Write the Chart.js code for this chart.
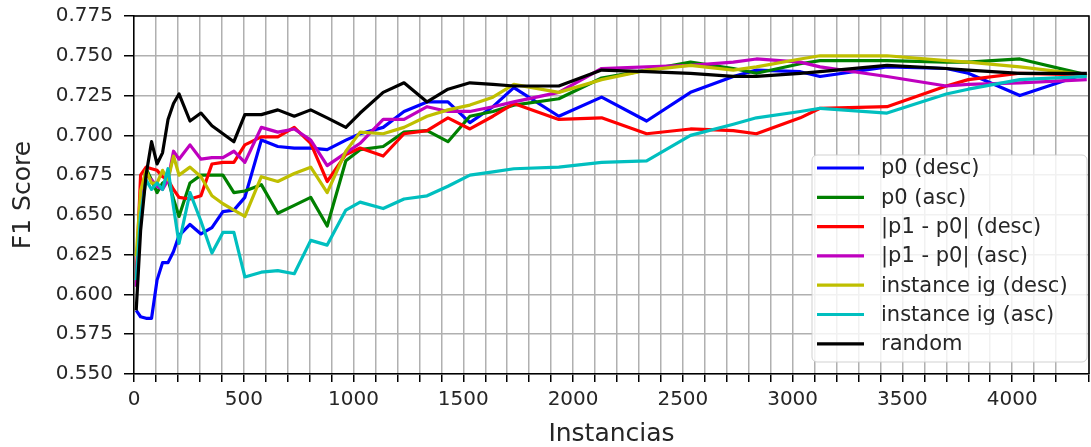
<!DOCTYPE html>
<html>
<head>
<meta charset="utf-8">
<script src="https://cdn.jsdelivr.net/npm/chart.js@4.4.1/dist/chart.umd.min.js"></script>
<style>
  html, body { margin: 0; padding: 0; background: #ffffff; }
  #wrap { width: 1091px; height: 447px; }
</style>
</head>
<body>
<div id="wrap"><canvas id="c" width="1091" height="447"></canvas></div>
<script>
// ---- data ----
const xs = [10, 30, 55, 80, 105, 130, 155, 180, 205, 255, 305, 355, 405, 455, 505, 580, 655, 730, 805, 880,
            965, 1030, 1135, 1230, 1335, 1430, 1530, 1635, 1730, 1935, 2130, 2335, 2535, 2730, 2835, 3035,
            3125, 3430, 3700, 3800, 4035, 4340];

const p0Desc = [0.590, 0.586, 0.585, 0.585, 0.609, 0.620, 0.620, 0.627, 0.637, 0.644, 0.638, 0.642, 0.652, 0.653, 0.661, 0.697, 0.693, 0.692, 0.692, 0.691,
                0.697, 0.701, 0.705, 0.715, 0.721, 0.721, 0.708, 0.718, 0.730, 0.712, 0.724, 0.709, 0.727, 0.737, 0.741, 0.740,
                0.737, 0.743, 0.742, 0.739, 0.725, 0.739];
const p0Asc = [0.605, 0.660, 0.679, 0.672, 0.664, 0.670, 0.672, 0.660, 0.649, 0.670, 0.675, 0.675, 0.675, 0.664, 0.665, 0.669, 0.651, 0.656, 0.661, 0.643,
               0.684, 0.691, 0.693, 0.702, 0.703, 0.696, 0.712, 0.715, 0.719, 0.723, 0.736, 0.741, 0.746, 0.742, 0.739, 0.745,
               0.747, 0.747, 0.746, 0.746, 0.748, 0.738];
const diffDesc = [0.610, 0.675, 0.680, 0.679, 0.678, 0.674, 0.672, 0.666, 0.661, 0.660, 0.662, 0.682, 0.683, 0.683, 0.694, 0.699, 0.699, 0.705, 0.695, 0.671,
                  0.688, 0.692, 0.687, 0.701, 0.703, 0.711, 0.704, 0.712, 0.720, 0.710, 0.711, 0.701, 0.704, 0.703, 0.701, 0.711,
                  0.717, 0.718, 0.731, 0.735, 0.739, 0.738];
const diffAsc = [0.605, 0.660, 0.675, 0.672, 0.668, 0.666, 0.672, 0.690, 0.685, 0.694, 0.685, 0.686, 0.686, 0.690, 0.683, 0.705, 0.702, 0.704, 0.697, 0.681,
                 0.689, 0.695, 0.710, 0.710, 0.718, 0.715, 0.715, 0.718, 0.721, 0.727, 0.742, 0.743, 0.744, 0.746, 0.748, 0.746,
                 0.743, 0.737, 0.731, 0.732, 0.733, 0.735];
const igDesc = [0.624, 0.665, 0.678, 0.670, 0.670, 0.678, 0.672, 0.687, 0.675, 0.680, 0.674, 0.662, 0.657, 0.653, 0.649, 0.674, 0.671, 0.676, 0.680, 0.664,
                0.690, 0.702, 0.701, 0.705, 0.712, 0.716, 0.719, 0.724, 0.732, 0.727, 0.735, 0.741, 0.744, 0.741, 0.743, 0.748,
                0.750, 0.750, 0.747, 0.746, 0.743, 0.738];
const igAsc = [0.609, 0.650, 0.672, 0.666, 0.670, 0.666, 0.679, 0.655, 0.632, 0.664, 0.646, 0.626, 0.639, 0.639, 0.611, 0.614, 0.615, 0.613, 0.634, 0.631,
               0.653, 0.658, 0.654, 0.660, 0.662, 0.668, 0.675, 0.677, 0.679, 0.680, 0.683, 0.684, 0.700, 0.707, 0.711, 0.715,
               0.717, 0.714, 0.726, 0.729, 0.735, 0.737];
const randomF1 = [0.590, 0.640, 0.675, 0.696, 0.682, 0.689, 0.710, 0.720, 0.726, 0.709, 0.714, 0.706, 0.701, 0.696, 0.713, 0.713, 0.716, 0.712, 0.716, 0.711,
                  0.705, 0.714, 0.727, 0.733, 0.721, 0.729, 0.733, 0.732, 0.731, 0.731, 0.741, 0.740, 0.739, 0.737, 0.737, 0.739,
                  0.740, 0.744, 0.742, 0.741, 0.739, 0.739];

const seriesNames = ['p0 (desc)', 'p0 (asc)', '|p1 - p0| (desc)', '|p1 - p0| (asc)', 'instance ig (desc)', 'instance ig (asc)', 'random'];
const seriesValues = [p0Desc, p0Asc, diffDesc, diffAsc, igDesc, igAsc, randomF1];
const seriesColors = ['#0000ff', '#008000', '#ff0000', '#bf00bf', '#bfbf00', '#00bfbf', '#000000'];

const yTicks = [0.550, 0.575, 0.600, 0.625, 0.650, 0.675, 0.700, 0.725, 0.750, 0.775];
const xLabelStep = 500;

// ---- chart ----
const FONT = "'DejaVu Sans', 'Liberation Sans', sans-serif";
const TEXT = '#262626';

const datasets = seriesValues.map((vals, i) => ({
  label: seriesNames[i],
  data: xs.map((x, k) => ({ x: x, y: vals[k] })),
  borderColor: seriesColors[i],
  backgroundColor: seriesColors[i],
  borderWidth: 3.2,
  pointRadius: 0,
  tension: 0,
  fill: false,
  borderJoinStyle: 'round',
  order: seriesValues.length - i
}));

const frame = {
  id: 'frame',
  afterDatasetsDraw(chart) {
    const { ctx, chartArea: a } = chart;
    ctx.save();
    ctx.strokeStyle = '#000000';
    ctx.lineWidth = 1.5;
    ctx.beginPath();
    ctx.moveTo(a.left, a.top);
    ctx.lineTo(a.right, a.top);
    ctx.lineTo(a.right, a.bottom);
    ctx.stroke();
    ctx.restore();
  }
};

const insideLegend = {
  id: 'insideLegend',
  afterDraw(chart) {
    const ctx = chart.ctx;
    const bx = 812, by = 155, bw = 275, bh = 207, r = 5;
    ctx.save();
    ctx.beginPath();
    ctx.moveTo(bx + r, by);
    ctx.lineTo(bx + bw - r, by);
    ctx.arcTo(bx + bw, by, bx + bw, by + r, r);
    ctx.lineTo(bx + bw, by + bh - r);
    ctx.arcTo(bx + bw, by + bh, bx + bw - r, by + bh, r);
    ctx.lineTo(bx + r, by + bh);
    ctx.arcTo(bx, by + bh, bx, by + bh - r, r);
    ctx.lineTo(bx, by + r);
    ctx.arcTo(bx, by, bx + r, by, r);
    ctx.closePath();
    ctx.fillStyle = 'rgba(255,255,255,0.82)';
    ctx.fill();
    ctx.strokeStyle = 'rgba(204,204,204,0.9)';
    ctx.lineWidth = 1;
    ctx.stroke();
    ctx.font = "21px " + FONT;
    ctx.textBaseline = 'middle';
    ctx.textAlign = 'left';
    chart.data.datasets.forEach((ds, i) => {
      const y = 168 + i * 29.3;
      ctx.strokeStyle = ds.borderColor;
      ctx.lineWidth = 3.2;
      ctx.beginPath();
      ctx.moveTo(817, y);
      ctx.lineTo(864, y);
      ctx.stroke();
      ctx.fillStyle = TEXT;
      ctx.fillText(ds.label, 881, y + 1);
    });
    ctx.restore();
  }
};

new Chart(document.getElementById('c'), {
  type: 'line',
  data: { datasets },
  plugins: [frame, insideLegend],
  options: {
    responsive: false,
    animation: false,
    devicePixelRatio: 1,
    layout: { padding: { left: 8, right: 2, top: 16, bottom: 0 } },
    plugins: { legend: { display: false }, tooltip: { enabled: false } },
    scales: {
      x: {
        type: 'linear',
        min: 0,
        max: 4350,
        ticks: {
          stepSize: 100,
          autoSkip: false,
          maxRotation: 0,
          padding: 6,
          color: TEXT,
          font: { family: FONT, size: 20 },
          callback: (v) => (v % xLabelStep === 0 ? String(v) : '')
        },
        grid: { color: '#b0b0b0', lineWidth: 1.5, tickColor: '#000000', tickLength: 8, tickWidth: 1.5 },
        border: { color: '#000000', width: 1.5 },
        title: { display: true, text: 'Instancias', color: TEXT, font: { family: FONT, size: 25 }, padding: { top: 0, bottom: -2 } },
        afterFit: (s) => { s.height = 73; s.paddingLeft = 0; s.paddingRight = 0; }
      },
      y: {
        type: 'linear',
        min: yTicks[0],
        max: yTicks[yTicks.length - 1],
        afterBuildTicks: (s) => { s.ticks = yTicks.map(v => ({ value: v })); },
        ticks: {
          padding: 11,
          color: TEXT,
          font: { family: FONT, size: 20 },
          callback: (v) => Number(v).toFixed(3)
        },
        grid: { color: '#b0b0b0', lineWidth: 1.5, tickColor: '#000000', tickLength: 10, tickWidth: 1.5 },
        border: { color: '#000000', width: 1.5 },
        title: { display: true, text: 'F1 Score', color: TEXT, font: { family: FONT, size: 25 }, padding: { top: 0, bottom: 0 } },
        afterFit: (s) => { s.width = 126; s.paddingTop = 0; s.paddingBottom = 0; }
      }
    }
  }
});
</script>
</body>
</html>
